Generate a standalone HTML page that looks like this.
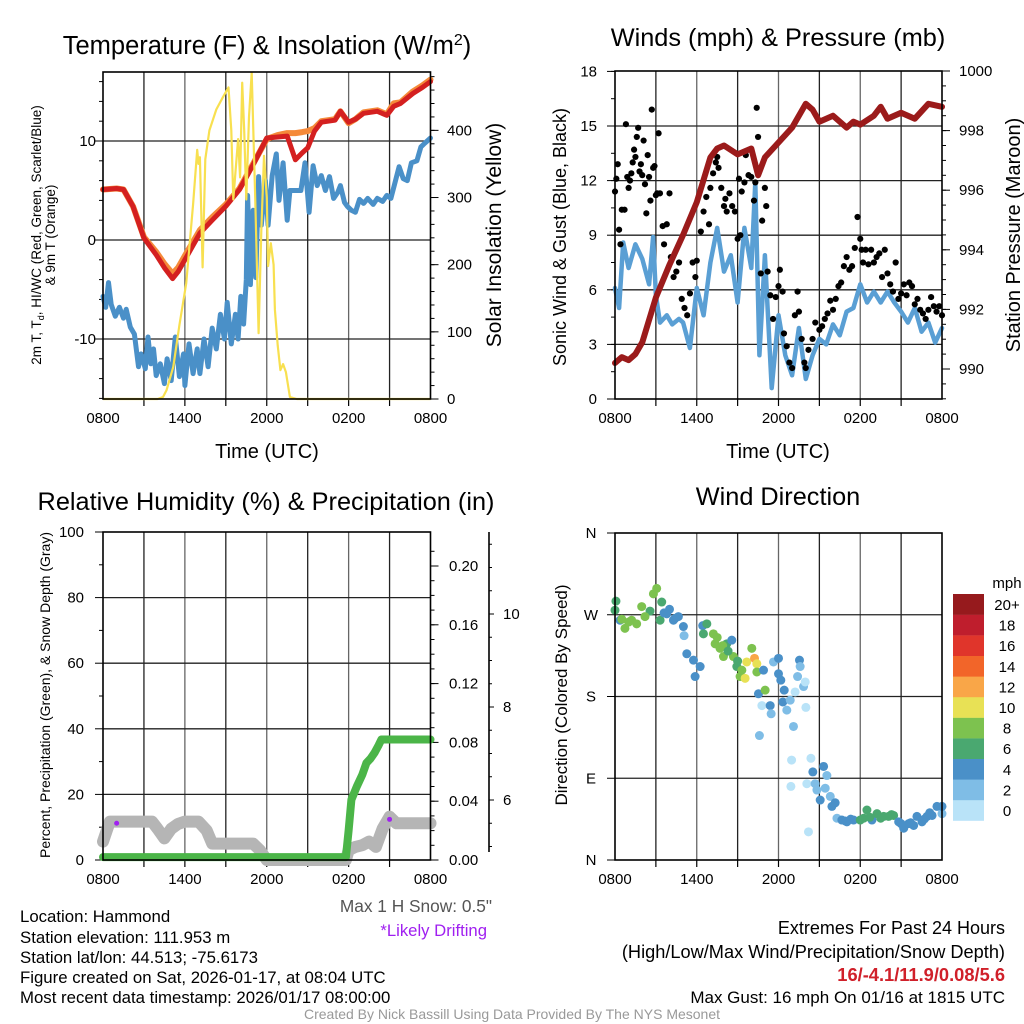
<!DOCTYPE html>
<html><head><meta charset="utf-8">
<style>
html,body{margin:0;padding:0;background:#fff;}
svg{display:block;font-family:"Liberation Sans",Arial,sans-serif;}
</style></head>
<body>
<svg id="fig" width="1024" height="1024" viewBox="0 0 1024 1024" xmlns="http://www.w3.org/2000/svg">
<rect x="0" y="0" width="1024" height="1024" fill="#fff"/>
<g id="p1"></g>
<g id="p2"></g>
<g id="p3"></g>
<g id="p4"></g>

<text x="267" y="54" font-size="25.5" text-anchor="middle">Temperature (F) &amp; Insolation (W/m<tspan dy="-9" font-size="16">2</tspan><tspan dy="9">)</tspan></text>
<text x="778" y="46" font-size="25.3" text-anchor="middle">Winds (mph) &amp; Pressure (mb)</text>
<text x="266" y="510" font-size="25.3" text-anchor="middle">Relative Humidity (%) &amp; Precipitation (in)</text>
<text x="778" y="505" font-size="25.3" text-anchor="middle">Wind Direction</text>

<text x="267" y="458" font-size="20" text-anchor="middle">Time (UTC)</text>
<text x="778" y="458" font-size="20" text-anchor="middle">Time (UTC)</text>

<text transform="translate(41,235) rotate(-90)" font-size="13.5" text-anchor="middle">2m T, T<tspan font-size="9" dy="3">d</tspan><tspan dy="-3">, HI/WC (Red, Green, Scarlet/Blue)</tspan></text>
<text transform="translate(55,235) rotate(-90)" font-size="13.5" text-anchor="middle">&amp; 9m T (Orange)</text>
<text transform="translate(501,235) rotate(-90)" font-size="21" text-anchor="middle">Solar Insolation (Yellow)</text>
<text transform="translate(566,237) rotate(-90)" font-size="18" text-anchor="middle">Sonic Wind &amp; Gust (Blue, Black)</text>
<text transform="translate(1020,235) rotate(-90)" font-size="20" text-anchor="middle">Station Pressure (Maroon)</text>
<text transform="translate(50,695) rotate(-90)" font-size="14" text-anchor="middle">Percent, Precipitation (Green), &amp; Snow Depth (Gray)</text>
<text transform="translate(567,695) rotate(-90)" font-size="17" text-anchor="middle">Direction (Colored By Speed)</text>

<text x="492" y="912" font-size="17.3" text-anchor="end" fill="#555">Max 1 H Snow: 0.5"</text>
<text x="487" y="936" font-size="16.7" text-anchor="end" fill="#a020f0">*Likely Drifting</text>

<g font-size="16.8">
<text x="20" y="922">Location: Hammond</text>
<text x="20" y="943">Station elevation: 111.953 m</text>
<text x="20" y="963">Station lat/lon: 44.513; -75.6173</text>
<text x="20" y="983">Figure created on Sat, 2026-01-17, at 08:04 UTC</text>
<text x="20" y="1003">Most recent data timestamp: 2026/01/17 08:00:00</text>
</g>
<g text-anchor="end">
<text x="1005" y="934" font-size="18">Extremes For Past 24 Hours</text>
<text x="1005" y="958" font-size="18.2">(High/Low/Max Wind/Precipitation/Snow Depth)</text>
<text x="1005" y="981" font-size="18.3" font-weight="bold" fill="#d0202a">16/-4.1/11.9/0.08/5.6</text>
<text x="1005" y="1003" font-size="17">Max Gust: 16 mph On 01/16 at 1815 UTC</text>
</g>
<text x="512" y="1019" font-size="14" text-anchor="middle" fill="#999">Created By Nick Bassill Using Data Provided By The NYS Mesonet</text>
</svg>
<script>
// ---------- data ----------
var timeLabels = ["0800","1400","2000","0200","0800"];
// Temperature panel
var tempHours = [0,1,1.5,2.2,3,3.9,4.5,5.1,5.5,6,7.1,8,9,10,11,12,12.8,13.5,14.1,14.6,15,15.5,16,17,17.4,18,18.5,19.1,20.1,20.8,21.3,21.8,22.7,23.4,24];
var tempValues = [5.1,5.2,5.1,3.4,0.2,-1.5,-2.8,-3.9,-3.2,-2.0,0.7,2.0,3.4,5.1,7.6,10.3,10.4,10.5,8.1,8.8,9.3,11.0,11.9,12.1,13.0,11.9,12.2,12.8,13.0,12.6,13.5,13.8,14.8,15.4,16.0];
var temp9mValues = [5.1,5.2,5.1,3.4,0.3,-1.2,-2.4,-3.4,-2.8,-1.6,1.0,2.3,3.6,5.2,7.7,10.2,10.6,10.8,10.8,10.9,11.0,11.3,12.0,12.2,13.0,11.8,12.2,12.9,13.1,12.7,13.8,13.9,15.0,15.6,16.2];
var dewHours = [0,0.2,0.4,0.6,0.9,1.2,1.5,1.7,2.0,2.3,2.6,2.8,3.1,3.3,3.5,3.7,3.9,4.2,4.5,4.7,5.0,5.3,5.6,5.9,6.0,6.3,6.6,6.9,7.1,7.4,7.7,8.0,8.3,8.6,8.9,9.1,9.4,9.7,9.9,10.1,10.3,10.5,10.6,10.8,11.0,11.2,11.4,11.6,11.9,12.1,12.4,12.7,12.9,13.2,13.5,13.7,14.5,14.8,15.1,15.4,15.7,16.0,16.3,16.6,16.9,17.2,17.4,17.7,17.9,18.2,18.5,18.8,19.1,19.4,19.8,20.1,20.5,20.8,21.1,21.4,21.7,22.0,22.3,22.6,23.0,23.3,23.6,24.0];
var dewValues = [-5.7,-6.8,-4.3,-6.5,-7.7,-6.8,-7.9,-7.0,-8.8,-9.5,-12.8,-11.5,-13.0,-9.8,-12.5,-11.0,-13.7,-12.5,-14.5,-12.0,-14.2,-9.8,-13.8,-11.5,-14.7,-10.5,-13.5,-11.0,-13.5,-10.0,-12.8,-8.9,-11.0,-7.5,-10.0,-6.3,-10.5,-7.5,-10.0,-5.7,-8.5,-4.0,4.5,-4.5,3.0,-3.8,6.4,1.5,6.0,1.5,6.5,8.7,4.0,7.8,2.0,5.0,5.0,7.8,2.8,7.5,5.5,6.5,5.0,6.4,4.2,4.8,5.5,3.8,3.4,3.0,2.8,4.1,3.7,4.2,3.6,4.2,3.9,4.5,4.2,5.8,7.4,6.2,6.0,7.8,8.0,9.4,9.8,10.3];
var solarHours = [0,4,4.4,4.65,5.15,5.6,6.1,6.6,6.9,7.0,7.1,7.3,7.5,7.8,8.3,8.8,9.2,9.4,9.55,9.9,10.05,10.2,10.35,10.5,10.7,10.9,11.15,11.4,11.6,11.8,12.0,12.1,12.3,12.5,12.6,12.8,13.0,13.2,13.4,13.7,14.2,24];
var solarValues = [0,0,3,13,48,110,172,290,371,350,360,196,357,400,431,450,464,400,297,387,330,471,400,297,420,486,300,98,250,362,300,198,232,200,133,80,43,52,40,3,0,0];
var tempTicks = [-10,0,10];
var solarTicks = [0,100,200,300,400];
// Wind panel
var pressHours = [0,0.5,1,1.5,2,3,4,5,6,7,7.5,8,9,10,10.5,11,12,13,14,14.5,15,16,17,17.5,18,19,19.5,20,21,22,23,24];
var pressValues = [990.2,990.4,990.3,990.5,990.9,992.4,993.5,994.5,995.6,997.1,997.4,997.5,997.2,997.4,996.5,997.1,997.6,998.1,998.9,998.7,998.3,998.5,998.1,998.3,998.2,998.5,998.8,998.4,998.6,998.4,998.9,998.8];
var windHours = [0,0.3,0.6,1,1.5,2,2.5,2.8,3,3.3,3.8,4.2,4.7,5,5.5,6,6.5,7,7.5,8,8.5,9,9.5,10,10.3,10.6,11,11.5,12,12.5,13,13.5,14,14.5,15,15.5,16,16.5,17,17.5,18,18.5,19,19.5,20,20.5,21,21.5,22,22.5,23,23.5,24];
var windValues = [6.1,5.0,8.6,7.2,8.5,7.7,6.3,8.9,5.7,4.2,4.6,4.1,4.4,4.2,2.8,6.1,4.6,7.5,9.4,7.0,7.9,5.3,9.4,7.2,11.9,2.4,7.9,0.6,4.6,2.4,1.3,3.9,1.1,2.4,3.3,3.0,4.1,3.5,4.8,5.0,6.3,5.3,5.9,5.3,5.9,5.3,4.8,4.2,5.0,3.7,4.2,3.1,3.9];
var gustHours = [0,0.1,0.2,0.3,0.4,0.5,0.7,0.8,0.9,1,1.1,1.2,1.3,1.4,1.5,1.6,1.7,1.8,1.9,2,2.1,2.2,2.3,2.4,2.5,2.6,2.7,2.8,2.9,3,3.1,3.2,3.3,3.5,3.6,3.8,4,4.1,4.3,4.5,4.7,4.9,5.1,5.3,5.5,5.7,5.9,6,6.3,6.5,6.7,6.9,7,7.2,7.4,7.5,7.6,7.8,8,8.1,8.2,8.4,8.6,8.8,9,9.1,9.2,9.3,9.5,9.6,9.8,10,10.2,10.3,10.4,10.5,10.7,10.8,11,11.1,11.2,11.4,11.6,11.8,12,12.1,12.3,12.4,12.6,12.8,13,13.2,13.4,13.5,13.7,13.9,14,14.2,14.5,14.7,15,15.2,15.4,15.6,15.8,16,16.2,16.4,16.6,16.8,17,17.2,17.4,17.6,17.8,18,18.1,18.2,18.4,18.6,18.8,19,19.2,19.4,19.6,19.8,20,20.2,20.4,20.6,20.8,21,21.2,21.4,21.6,21.8,22,22.2,22.4,22.6,22.8,23,23.2,23.4,23.6,23.8,24];
var gustValues = [11.4,12.1,12.9,9.3,8.5,10.4,10.4,15.1,12.2,11.6,12.0,12.4,13.0,13.7,13.3,14.4,14.9,12.5,12.9,12.3,14.2,11.8,10.2,13.4,12.2,10.9,15.9,12.7,12.8,11.2,11.3,14.6,11.3,9.5,8.5,9.6,11.3,7.8,6.7,7.0,7.5,5.5,5.0,4.6,5.8,7.5,6.7,7.6,9.2,10.3,11.1,9.6,11.6,12.4,13.0,13.3,12.7,11.6,10.6,11.0,10.3,11.3,10.6,10.3,8.8,12.1,9.0,11.4,11.9,13.4,12.3,12.2,10.9,11.9,16.0,14.4,6.9,9.8,11.6,10.6,7.0,5.7,4.4,5.6,6.2,7.1,5.9,3.6,2.9,2.0,1.7,4.6,5.9,4.8,3.3,2.0,1.7,2.7,3.3,4.2,3.8,4.0,4.4,4.7,5.4,4.9,5.5,6.2,6.4,7.3,7.8,7.1,7.3,8.3,10.0,8.8,8.2,7.5,8.2,7.4,8.2,7.5,7.8,8.0,6.7,8.2,6.9,6.3,5.9,7.5,5.5,5.8,6.3,5.7,6.4,6.2,5.2,5.5,4.9,4.7,4.4,4.9,5.6,5.1,4.8,5.1,4.6];
var windTicks = [0,3,6,9,12,15,18];
var pressTicks = [990,992,994,996,998,1000];
// Humidity / precip panel
var snowHours = [0,0.5,1,2,3,3.6,4,4.5,5,5.5,6,7,7.6,8,9,10,11,11.5,12,13,14,15,16,17,17.8,18,18.5,19,19.5,20,20.5,21,21.5,22,23,24];
var snowValues = [5.6,11.7,11.7,11.7,11.7,11.7,9.5,6.6,9.5,11.0,11.7,11.7,9.0,5.0,5.0,5.0,5.0,3.0,0,0,0,0,0,0,0,3.0,4.0,4.5,5.6,4.0,9.6,13.2,11.2,11.2,11.2,11.2];
var precipHours = [0,17.8,18.0,18.2,18.6,19.0,19.3,19.6,19.9,20.2,20.4,21,22,23,24];
var precipValues = [0.002,0.002,0.02,0.041,0.050,0.058,0.066,0.069,0.073,0.078,0.082,0.082,0.082,0.082,0.082];
var driftHours = [1,21];
var driftValues = [11.2,12.4];
var pctTicks = [0,20,40,60,80,100];
var precipTicks = [0.00,0.04,0.08,0.12,0.16,0.20];
var snowDepthTicks = [6,8,10];
// Wind direction panel
var dirHours = [0.0,0.07,0.37,0.73,1.22,1.59,1.96,2.57,2.82,3.06,3.31,3.43,3.80,4.29,4.65,5.02,5.07,5.27,5.76,5.88,6.25,6.44,6.49,6.74,7.22,7.35,7.71,7.96,8.20,8.57,8.69,8.94,9.18,9.31,9.55,9.67,10.04,10.24,10.41,10.41,10.53,10.90,11.02,10.78,11.39,11.46,10.60,11.63,12.00,12.00,12.17,12.32,12.42,12.61,12.86,13.10,13.22,13.40,13.54,13.59,13.84,13.96,14.01,12.96,12.91,14.20,14.38,14.08,14.52,14.69,14.82,15.06,15.31,15.43,15.55,15.80,15.92,16.16,16.29,16.65,17.02,17.51,18.00,18.25,18.49,18.86,19.23,19.72,20.08,20.45,20.82,21.19,21.55,21.92,22.16,22.53,22.90,23.27,23.63,24.0,24.0,0.5,1.0,2.2,3.6,4.0,4.4,7.5,7.9,8.3,9.0,16.9,17.3,18.7,19.5,20.3,21.0,21.7,22.7,23.1];
var dirValues = [275,285,264,255,264,260,279,274,293,299,264,284,271,264,268,257,247,227,220,202,213,258,249,260,249,238,233,224,238,242,224,213,202,209,200,218,233,222,216,207,183,209,187,170,170,161,137,218,222,205,198,174,187,165,176,147,185,202,220,213,191,196,168,110,81,31,112,84,97,84,77,66,103,79,93,70,59,63,46,44,42,44,44,46,55,44,51,48,48,49,42,35,40,38,48,42,48,49,59,51,59,265,262,268,272,276,266,245,236,230,219,43,45,47,46,50,40,41,45,52];
var dirSpeeds = [6,6,4,8,8,8,8,6,8,8,6,6,4,4,4,4,2,4,4,4,4,4,6,6,8,8,8,8,6,4,8,6,8,8,10,10,8,12,10,8,4,4,8,0,4,2,2,2,4,4,4,4,4,2,2,2,0,2,4,2,2,0,0,0,0,0,0,0,4,2,2,4,4,2,2,2,4,4,2,4,4,4,6,6,6,4,6,6,6,6,4,4,4,4,4,4,4,4,4,2,4,8,8,8,4,4,4,8,8,6,6,4,4,6,6,6,4,4,4,4];
var dirTickLabels = ["N","E","S","W","N"];
var speedLabels = ["0","2","4","6","8","10","12","14","16","18","20+"];
var speedColors = ["#b9e3f8","#7fbde6","#4a90c8","#4aa870","#7dc24f","#e8e155","#f9a648","#f26529","#e0352b","#bf1e2d","#961a1d"];

// ---------- helpers ----------
var NS="http://www.w3.org/2000/svg";
function mk(parent,tag,attrs){var e=document.createElementNS(NS,tag);for(var k in attrs)e.setAttribute(k,attrs[k]);parent.appendChild(e);return e;}
function pathD(xs,ys,fx,fy){var d="";for(var i=0;i<xs.length;i++){d+=(i?"L":"M")+fx(xs[i]).toFixed(1)+","+fy(ys[i]).toFixed(1);}return d;}

// ---------- panel geometry ----------
var P1={x0:103,x1:430.5,y0:72,y1:399};
var P2={x0:615,x1:942,y0:71,y1:399};
var P3={x0:103,x1:430.5,y0:532,y1:860};
var P4={x0:615,x1:942,y0:533,y1:860};
function xFn(P){return function(h){return P.x0+h*(P.x1-P.x0)/24;};}

function frame(g,P,xf,name){
  for(var h=3;h<24;h+=3){
    var l=mk(g,"line",{x1:xf(h),x2:xf(h),y1:P.y0,y2:P.y1,stroke:(h%6==0?"#666":"#222"),"stroke-width":1.3});
    
    
    var t=mk(g,"line",{x1:xf(h),x2:xf(h),y1:P.y1,y2:P.y1+7,stroke:"#000","stroke-width":1.2});
    
    
  }
  for(var i=0;i<timeLabels.length;i++){
    var tx=mk(g,"text",{x:xf(i*6),y:P.y1+24,"font-size":15,"text-anchor":"middle"});
    tx.textContent=timeLabels[i];
    
    
  }
}
function border(g,P,name){
  var r=mk(g,"rect",{x:P.x0,y:P.y0,width:P.x1-P.x0,height:P.y1-P.y0,fill:"none",stroke:"#000","stroke-width":1.6});
  
  
}
function hgrid(g,P,y,name){
  var l=mk(g,"line",{x1:P.x0,x2:P.x1,y1:y,y2:y,stroke:"#222","stroke-width":1.3});
  
  
}
function tick(g,x,y,len,name){
  var l=mk(g,"line",{x1:x,x2:x+len,y1:y,y2:y,stroke:"#000","stroke-width":1});
  
  
}
function label(g,x,y,txt,anchor,size,name){
  var t=mk(g,"text",{x:x,y:y+5,"font-size":size||15,"text-anchor":anchor});
  t.textContent=txt;
  
  
  return t;
}

// ---------- Panel 1 ----------
(function(){
  var g=document.getElementById("p1"), P=P1, xf=xFn(P);
  var yT=function(v){return 240-v*9.9;};
  var yS=function(v){return P.y1-v*0.6716;};
  frame(g,P,xf,"temp");
  tempTicks.forEach(function(v){hgrid(g,P,yT(v),"temp");tick(g,P.x0,yT(v),-8,"temp-y-tick");label(g,96,yT(v),String(v),"end",15,"temp-y-tick-label");});
  for(var v=-16;v<=17;v+=2){tick(g,P.x0,yT(v),-4,"temp-y-minor-tick");}
  solarTicks.forEach(function(v){tick(g,P.x1,yS(v),8,"solar-y-tick");label(g,447,yS(v),String(v),"start",15,"solar-y-tick-label");});
  for(var v=0;v<=480;v+=20){tick(g,P.x1,yS(v),4,"solar-y-minor-tick");}
  var o=mk(g,"path",{d:pathD(tempHours,temp9mValues,xf,yT),fill:"none",stroke:"#f58a3a","stroke-width":6,"stroke-linejoin":"round","stroke-linecap":"round"});
  
  
  var r=mk(g,"path",{d:pathD(tempHours,tempValues,xf,yT),fill:"none",stroke:"#d42020","stroke-width":5,"stroke-linejoin":"round","stroke-linecap":"round"});
  
  
  var b=mk(g,"path",{d:pathD(dewHours,dewValues,xf,yT),fill:"none",stroke:"#4a90c8","stroke-width":5,"stroke-linejoin":"round","stroke-linecap":"round"});
  
  
  var s=mk(g,"path",{d:pathD(solarHours,solarValues,xf,yS),fill:"none",stroke:"#f8e050","stroke-width":2.2,"stroke-linejoin":"round"});
  
  
  border(g,P,"temp");
})();

// ---------- Panel 2 ----------
(function(){
  var g=document.getElementById("p2"), P=P2, xf=xFn(P);
  var yW=function(v){return P.y1-v*18.2;};
  var yP=function(v){return 369-(v-990)*29.8;};
  frame(g,P,xf,"wind");
  windTicks.forEach(function(v){if(v>0&&v<18)hgrid(g,P,yW(v),"wind");tick(g,P.x0,yW(v),-8,"wind-y-tick");label(g,597,yW(v),String(v),"end",15,"wind-y-tick-label");});
  for(var v=0;v<=18;v+=1.5){tick(g,P.x0,yW(v),-4,"wind-y-minor-tick");}
  pressTicks.forEach(function(v){tick(g,P.x1,yP(v),8,"pressure-y-tick");label(g,959,yP(v),String(v),"start",15,"pressure-y-tick-label");});
  for(var v=989;v<=1000;v+=0.5){tick(g,P.x1,yP(v),4,"pressure-y-minor-tick");}
  var w=mk(g,"path",{d:pathD(windHours,windValues,xf,yW),fill:"none",stroke:"#5a9fd4","stroke-width":4.5,"stroke-linejoin":"round","stroke-linecap":"round"});
  
  
  for(var i=0;i<gustHours.length;i++){
    var c=mk(g,"circle",{cx:xf(gustHours[i]),cy:yW(gustValues[i]),r:3.1,fill:"#000"});
    
    
  }
  var p=mk(g,"path",{d:pathD(pressHours,pressValues,xf,yP),fill:"none",stroke:"#9b1b1b","stroke-width":6,"stroke-linejoin":"round","stroke-linecap":"round"});
  
  
  border(g,P,"wind");
})();

// ---------- Panel 3 ----------
(function(){
  var g=document.getElementById("p3"), P=P3, xf=xFn(P);
  var yPct=function(v){return P.y1-v*3.28;};
  var yPr=function(v){return P.y1-v*1470;};
  var ySn=function(v){return 800-(v-6)*46.5;};
  frame(g,P,xf,"humidity");
  pctTicks.forEach(function(v){if(v>0&&v<100)hgrid(g,P,yPct(v),"humidity");tick(g,P.x0,yPct(v),-8,"percent-y-tick");label(g,84,yPct(v),String(v),"end",15,"percent-y-tick-label");});
  for(var v=10;v<100;v+=20){tick(g,P.x0,yPct(v),-4,"percent-y-minor-tick");}
  precipTicks.forEach(function(v){tick(g,P.x1,yPr(v),8,"precip-y-tick");label(g,449,yPr(v),v.toFixed(2),"start",15,"precip-y-tick-label");});
  for(var v=0;v<=0.22;v+=0.01){tick(g,P.x1,yPr(v),4,"precip-y-minor-tick");}
  var ax=mk(g,"line",{x1:489,x2:489,y1:P.y0,y2:P.y1-8,stroke:"#000","stroke-width":1.6});
  
  
  snowDepthTicks.forEach(function(v){tick(g,489,ySn(v),5,"snow-y-tick");label(g,503,ySn(v),String(v),"start",15,"snow-y-tick-label");});
  for(var v=5;v<=11.5;v+=0.5){tick(g,489,ySn(v),3,"snow-y-minor-tick");}
  var s=mk(g,"path",{d:pathD(snowHours,snowValues,xf,yPct),fill:"none",stroke:"#b5b5b5","stroke-width":12,"stroke-linejoin":"round","stroke-linecap":"round"});
  
  
  var pr=mk(g,"path",{d:pathD(precipHours,precipValues,xf,yPr),fill:"none",stroke:"#4bb548","stroke-width":8,"stroke-linejoin":"round","stroke-linecap":"round"});
  
  
  for(var i=0;i<driftHours.length;i++){
    var c=mk(g,"circle",{cx:xf(driftHours[i]),cy:yPct(driftValues[i]),r:2.5,fill:"#a020f0"});
    
    
  }
  border(g,P,"humidity");
})();

// ---------- Panel 4 ----------
(function(){
  var g=document.getElementById("p4"), P=P4, xf=xFn(P);
  var yD=function(v){return P.y1-v*(P.y1-P.y0)/360;};
  frame(g,P,xf,"direction");
  for(var i=0;i<dirTickLabels.length;i++){
    var v=i*90;
    if(v>0&&v<360)hgrid(g,P,yD(v),"direction");
    tick(g,P.x0,yD(v),-8,"direction-y-tick");
    label(g,591,yD(v),dirTickLabels[i],"middle",15,"direction-y-tick-label");
  }
  for(var i=0;i<dirHours.length;i++){
    var idx=Math.min(10,Math.max(0,Math.round(dirSpeeds[i]/2)));
    var c=mk(g,"circle",{cx:xf(dirHours[i]),cy:yD(dirValues[i]),r:4.5,fill:speedColors[idx]});
    
    
  }
  border(g,P,"direction");
  var t=mk(g,"text",{x:1007,y:588,"font-size":15,"text-anchor":"middle"});
  t.textContent="mph";
  
  
  for(var k=0;k<speedColors.length;k++){
    var y=594+(10-k)*20.6;
    var r=mk(g,"rect",{x:953,y:y,width:31,height:20.8,fill:speedColors[k]});
    
    
    var l=mk(g,"text",{x:1007,y:y+16,"font-size":15,"text-anchor":"middle"});
    l.textContent=speedLabels[k];
    
    
  }
})();
</script>
</body></html>
